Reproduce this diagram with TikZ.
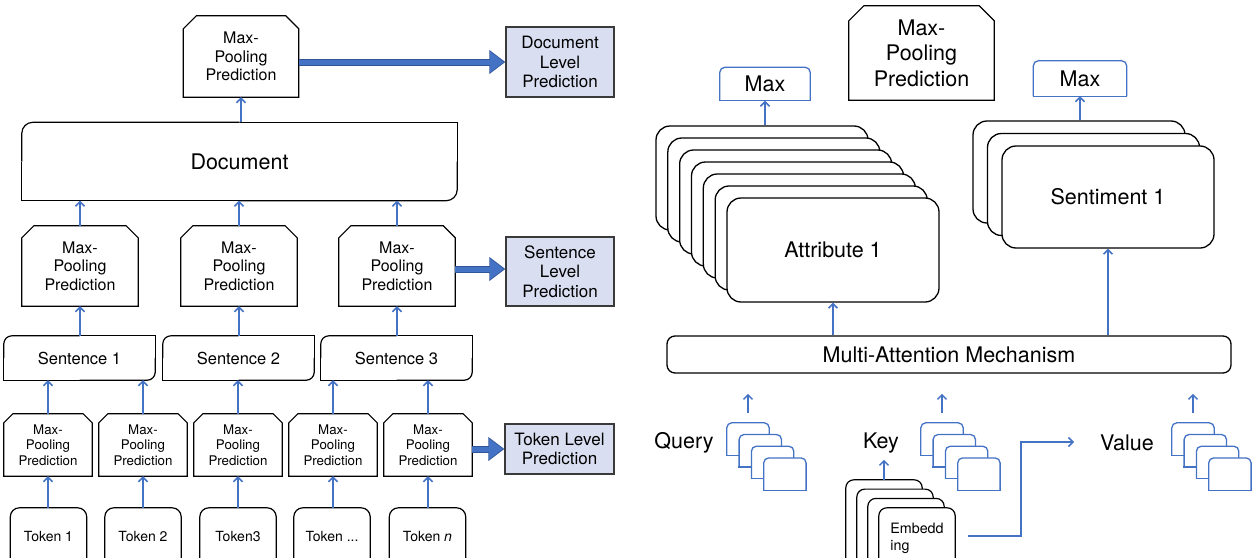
\documentclass[tikz,border=0pt]{standalone}
\usepackage{fontspec}
\setmainfont{TeX Gyre Heros}
\usetikzlibrary{arrows.meta,calc}
\definecolor{ablue}{HTML}{4472C4}
\definecolor{dblue}{HTML}{2F5597}
\definecolor{pfill}{HTML}{D9DFF1}
\definecolor{pdraw}{HTML}{3A3A3A}
\newcommand{\fMPa}{\fontsize{16}{18.7}\selectfont}
\newcommand{\fPred}{\fontsize{17}{19.5}\selectfont}
\newcommand{\fDoc}{\fontsize{21.5}{24}\selectfont}
\newcommand{\fSent}{\fontsize{16.5}{19}\selectfont}
\newcommand{\fMPs}{\fontsize{13.3}{15.5}\selectfont}
\newcommand{\fTok}{\fontsize{14}{16}\selectfont}
\newcommand{\fBig}{\fontsize{21.5}{25.5}\selectfont}
\newcommand{\fEmb}{\fontsize{14.3}{17.3}\selectfont}
\newcommand{\drawchamf}[2]{\draw[bline] ([yshift=-#2]#1.north west) -- ([xshift=#2]#1.north west) -- ([xshift=-#2]#1.north east) -- ([yshift=-#2]#1.north east) -- (#1.south east) -- (#1.south west) -- cycle;}
\newcommand{\drawdiag}[2]{%
\draw[bline,rounded corners=#2] (#1.west) -- (#1.north west) -- (#1.north);
\draw[bline] (#1.north) -- (#1.north east) -- (#1.east);
\draw[bline,rounded corners=#2] (#1.east) -- (#1.south east) -- (#1.south);
\draw[bline] (#1.south) -- (#1.south west) -- (#1.west);}
\newcommand{\drawtopbox}[3]{%
\filldraw[fill=white,draw=#3,line width=1.3pt,rounded corners=#2] (#1.south west) -- (#1.north west) -- (#1.north east) -- (#1.south east);
\draw[draw=#3,line width=1.3pt,line cap=rect] (#1.south west) -- (#1.south east);}
\newcommand{\drawopen}[2]{\filldraw[fill=white,draw=black,line width=1.2pt,rounded corners=#2] ([yshift=-40pt]#1.south west) -- (#1.north west) -- (#1.north east) -- ([yshift=-40pt]#1.south east);}
\newcommand{\fatarrow}[2]{%
\draw[line width=7pt,dblue,-{Triangle[length=16pt,width=23pt]}] #1 -- #2;
\draw[line width=5pt,ablue,shorten >=1.5pt,-{Triangle[length=13.8pt,width=20pt]}] #1 -- #2;}
\begin{document}
\begin{tikzpicture}[x=1pt,y=-1pt,
  box/.style={rectangle,inner sep=0pt,align=center},
  bline/.style={draw=black,line width=1.2pt},
  arr/.style={draw=ablue,line width=1.5pt,-{Straight Barb[length=4.5pt,width=9pt]}},
  pred/.style={rectangle,draw=pdraw,fill=pfill,line width=1.3pt,inner sep=0pt,align=center,font=\fPred},
  mpA/.style={box,minimum width=116pt,minimum height=80pt,font=\fMPa},
  mpS/.style={box,minimum width=88pt,minimum height=62pt,font=\fMPs},
  sentbox/.style={box,minimum width=151pt,minimum height=44pt,font=\fSent},
  tok/.style={box,minimum width=76pt,minimum height=56pt,font=\fTok},
  card/.style={rectangle,draw=black,fill=white,line width=1.3pt,rounded corners=14pt,minimum width=212pt,inner sep=0pt,font=\fBig},
  qk/.style={box,minimum width=42pt,minimum height=32pt},
  emb/.style={box,minimum width=76pt,minimum height=56pt,font=\fEmb,align=left},
  maxbox/.style={box,font=\fBig},
  lbl/.style={box,font=\fBig}]
\useasboundingbox (0,0) rectangle (1253,557);

% ---------------- Left panel ----------------
\node[box,minimum width=115pt,minimum height=81pt,font=\fMPa] (mptop) at (241,56.5) {Max-\\Pooling\\Prediction};
\drawchamf{mptop}{13pt}
\node[pred,minimum width=108pt,minimum height=70pt] (dlp) at (560,62) {Document\\Level\\Prediction};
\node[box,minimum width=435pt,minimum height=78pt,font=\fDoc] (doc) at (239.5,161.5) {Document};
\drawdiag{doc}{11pt}

\node[mpA] (mp2a) at (80,266) {Max-\\Pooling\\Prediction};
\node[mpA] (mp2b) at (239,266) {Max-\\Pooling\\Prediction};
\node[mpA] (mp2c) at (397,266) {Max-\\Pooling\\Prediction};
\foreach \n in {mp2a,mp2b,mp2c}{\drawchamf{\n}{12pt}}
\node[pred,minimum width=108pt,minimum height=69pt] (slp) at (560,271.5) {Sentence\\Level\\Prediction};

\node[sentbox] (s1) at (79.5,358) {Sentence 1};
\node[sentbox] (s2) at (238.5,358) {Sentence 2};
\node[sentbox] (s3) at (396.5,358) {Sentence 3};
\foreach \n in {s1,s2,s3}{\drawdiag{\n}{8pt}}

\node[mpS] (mp3a) at (48,445) {Max-\\Pooling\\Prediction};
\node[mpS] (mp3b) at (143,445) {Max-\\Pooling\\Prediction};
\node[mpS] (mp3c) at (238,445) {Max-\\Pooling\\Prediction};
\node[mpS] (mp3d) at (333,445) {Max-\\Pooling\\Prediction};
\node[mpS] (mp3e) at (428,445) {Max-\\Pooling\\Prediction};
\foreach \n in {mp3a,mp3b,mp3c,mp3d,mp3e}{\drawchamf{\n}{9pt}}
\node[pred,minimum width=109pt,minimum height=50pt] (tlp) at (559.5,449) {Token Level\\Prediction};

\node[tok] (t1) at (48.5,536) {};
\node[tok] (t2) at (143,536) {};
\node[tok] (t3) at (238,536) {};
\node[tok] (t4) at (332,536) {};
\node[tok] (t5) at (427.5,536) {};
\foreach \n in {t1,t2,t3,t4,t5}{\drawopen{\n}{9pt}}
\node[font=\fTok] at (t1) {Token 1};
\node[font=\fTok] at (t2) {Token 2};
\node[font=\fTok] at (t3) {Token3};
\node[font=\fTok] at (t4) {Token ...};
\node[font=\fTok] at (t5) {Token \textit{n}};

% arrows left
\draw[arr] (doc.north -| mptop.south) -- (mptop.south);
\foreach \n in {mp2a,mp2b,mp2c}{\draw[arr] (\n.north) -- (\n.north |- doc.south);}
\draw[arr] (mp2a.south |- s1.north) -- (mp2a.south);
\draw[arr] (mp2b.south |- s2.north) -- (mp2b.south);
\draw[arr] (mp2c.south |- s3.north) -- (mp2c.south);
\draw[arr] (mp3a.north) -- (mp3a.north |- s1.south);
\draw[arr] (mp3b.north) -- (mp3b.north |- s1.south);
\draw[arr] (mp3c.north) -- (mp3c.north |- s2.south);
\draw[arr] (mp3d.north) -- (mp3d.north |- s3.south);
\draw[arr] (mp3e.north) -- (mp3e.north |- s3.south);
\draw[arr] (mp3a.south |- t1.north) -- (mp3a.south);
\draw[arr] (mp3b.south |- t2.north) -- (mp3b.south);
\draw[arr] (mp3c.south |- t3.north) -- (mp3c.south);
\draw[arr] (mp3d.south |- t4.north) -- (mp3d.south);
\draw[arr] (mp3e.south |- t5.north) -- (mp3e.south);

\fatarrow{(dlp.west -| mptop.east)}{(dlp.west)}
\fatarrow{([yshift=-3pt]mp2c.east)}{([yshift=-3pt]mp2c.east -| slp.west)}
\fatarrow{(tlp.west -| mp3e.east)}{(tlp.west)}

% ---------------- Right panel ----------------
\node[maxbox,minimum width=90pt,minimum height=33pt] (max1) at (765,84) {};
\drawtopbox{max1}{5pt}{ablue}
\node[font=\fBig] at (max1) {Max};
\node[box,minimum width=145pt,minimum height=94pt,font=\fBig] (mppr) at (921.5,53) {Max-\\Pooling\\Prediction};
\drawchamf{mppr}{15pt}
\node[maxbox,minimum width=93pt,minimum height=35pt] (max2) at (1080,78.5) {};
\drawtopbox{max2}{5pt}{ablue}
\node[font=\fBig] at (max2) {Max};

\foreach \i in {0,...,5}{\node[card,minimum height=104pt] (att\i) at ({762+\i*11.83},{178+\i*12}) {};}
\node[card,minimum height=104pt] (att6) at (833,250) {Attribute 1};
\foreach \i in {0,1}{\node[card,minimum height=102pt] (sen\i) at ({1079+\i*14.5},{172+\i*12.5}) {};}
\node[card,minimum height=102pt] (sen2) at (1108,197) {Sentiment 1};

\draw[arr] (max1.south |- att0.north) -- (max1.south);
\draw[arr] (max2.south |- sen0.north) -- (max2.south);

\node[rectangle,draw=black,line width=1.3pt,rounded corners=8pt,minimum width=564pt,minimum height=37pt,inner sep=0pt,font=\fBig] (mam) at (949,354.5) {Multi-Attention Mechanism};
\draw[arr] (att6.south |- mam.north) -- (att6.south);
\draw[arr] (sen2.south |- mam.north) -- (sen2.south);

\node[lbl] (query) at (684,443) {Query};
\node[lbl] (key) at (881,443) {Key};
\node[lbl] (value) at (1127,443) {Value};

\foreach \i in {0,...,3}{
  \node[qk] (q\i) at ({748+\i*12.3},{439+\i*11.7}) {};
  \drawtopbox{q\i}{5pt}{ablue}
}
\foreach \i in {0,...,3}{
  \node[qk] (k\i) at ({942+\i*12.3},{439+\i*11.7}) {};
  \drawtopbox{k\i}{5pt}{ablue}
}
\foreach \i in {0,...,3}{
  \node[qk] (v\i) at ({1193+\i*12.3},{439+\i*11.7}) {};
  \drawtopbox{v\i}{5pt}{ablue}
}
\draw[arr] ([yshift=10pt]q0.north) -- ([yshift=29pt]q0.north);
\draw[arr] ([yshift=10pt]k0.north) -- ([yshift=29pt]k0.north);
\draw[arr] ([yshift=10pt]v0.north) -- ([yshift=29pt]v0.north);

\foreach \i in {0,...,2}{
  \node[emb] (e\i) at ({884+\i*11},{508+\i*9.3}) {};
  \drawopen{e\i}{8pt}
}
\node[emb] (e3) at (917,536) {};
\drawopen{e3}{8pt}
\node[font=\fEmb,align=left] at ([yshift=-2pt]e3) {Embedd\\ing};
\draw[arr] (e0.north) -- ([yshift=20pt]e0.north);

\coordinate (vin) at (1074,442);
\draw[arr] ([xshift=13pt]e3.east) -- ++(53,0) |- (vin);
\end{tikzpicture}
\end{document}
